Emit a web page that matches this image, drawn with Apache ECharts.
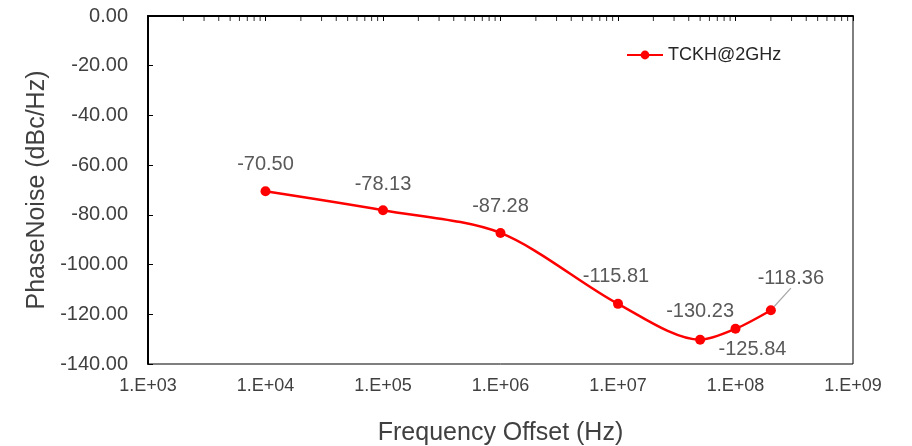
<!DOCTYPE html>
<html>
<head>
<meta charset="utf-8">
<script src="https://cdn.jsdelivr.net/npm/echarts@6/dist/echarts.min.js"></script>
<style>html,body{margin:0;padding:0;background:#fff}#c{width:912px;height:446px}</style>
</head>
<body>
<div id="c"></div>
<script>
const seriesName = 'TCKH@2GHz';
const freqOffsets = [1e4, 1e5, 1e6, 1e7, 5e7, 1e8, 2e8];
const phaseNoise = [-70.50, -78.13, -87.28, -115.81, -130.23, -125.84, -118.36];
const yTicks = [0, -20, -40, -60, -80, -100, -120, -140];
const minorTickValues = [];
[1e3, 1e4, 1e5, 1e6, 1e7, 1e8].forEach(function (d) {
  [2, 3, 4, 5, 6, 7, 8, 9].forEach(function (m) { minorTickValues.push(d * m); });
});

// label placement (style only)
const labelOffsets = [[0, -27], [0, -26], [0, -26], [-2, -27], [0, -28], [17, 21], [20, -32]];

const font = 'Liberation Sans';
const txt = '#404040';

const chart = echarts.init(document.getElementById('c'), null, {renderer: 'canvas'});
chart.setOption({
  animation: false,
  backgroundColor: '#fff',
  textStyle: {fontFamily: font},
  grid: {left: 148, right: 59, top: 16, bottom: 82, show: true, borderColor: '#000', borderWidth: 1,
         containLabel: false, outerBoundsMode: 'none'},
  legend: {
    data: [seriesName], left: 621, top: 41, itemWidth: 36, itemHeight: 11, itemGap: 8,
    textStyle: {fontFamily: font, fontSize: 18, color: '#262626'}
  },
  xAxis: [
    {
      type: 'log', logBase: 10, min: 1e3, max: 1e9, position: 'bottom',
      name: 'Frequency Offset (Hz)', nameLocation: 'middle', nameGap: 57,
      nameTextStyle: {fontFamily: font, fontSize: 25, color: txt},
      axisLine: {show: true, lineStyle: {color: '#000', width: 2}},
      axisTick: {show: false},
      splitLine: {show: false},
      axisLabel: {
        fontFamily: font, fontSize: 18, color: txt, margin: 13,
        formatter: function (v) {
          const e = Math.round(Math.log10(v));
          return '1.E+' + (e < 10 ? '0' + e : e);
        }
      }
    },
    {
      type: 'log', logBase: 10, min: 1e3, max: 1e9, position: 'top',
      axisLine: {show: true, lineStyle: {color: '#000', width: 1}},
      axisTick: {show: true, inside: true, length: 5, lineStyle: {color: '#000', width: 1}},
      axisLabel: {show: false},
      splitLine: {show: false}
    }
  ],
  yAxis: {
    type: 'value', min: yTicks[yTicks.length - 1], max: yTicks[0], interval: 20,
    name: 'PhaseNoise (dBc/Hz)', nameLocation: 'middle', nameGap: 98, nameRotate: 90,
    nameTextStyle: {fontFamily: font, fontSize: 25, color: txt},
    axisLine: {show: true, lineStyle: {color: '#000', width: 2}},
    axisTick: {show: true, inside: true, length: 5, lineStyle: {color: '#000', width: 1}},
    splitLine: {show: false},
    axisLabel: {
      fontFamily: font, fontSize: 20, color: txt, margin: 20,
      formatter: function (v) { return v.toFixed(2); }
    }
  },
  series: [
    {
      name: seriesName, type: 'line', xAxisIndex: 0,
      smooth: 0.3,
      data: freqOffsets.map(function (f, i) {
        return i === freqOffsets.length - 1
          ? {value: [f, phaseNoise[i]], labelLine: {show: true, lineStyle: {color: '#a6a6a6', width: 1.2}}}
          : {value: [f, phaseNoise[i]]};
      }),
      symbol: 'circle', symbolSize: 10,
      lineStyle: {color: '#ff0000', width: 2.5},
      itemStyle: {color: '#ff0000'},
      label: {
        show: true, position: 'inside', fontFamily: font, fontSize: 20, color: '#595959',
        formatter: function (p) { return p.value[1].toFixed(2); }
      },
      labelLayout: function (p) {
        const o = labelOffsets[p.dataIndex];
        return {dx: o[0], dy: o[1]};
      },
      z: 3
    },
    {
      name: 'minor', type: 'scatter', xAxisIndex: 1, silent: true,
      data: minorTickValues.map(function (v) { return [v, 0]; }),
      symbol: 'rect', symbolSize: [1, 5], symbolOffset: [0, 2.5],
      itemStyle: {color: '#000'}, z: 5
    }
  ]
});
</script>
</body>
</html>
